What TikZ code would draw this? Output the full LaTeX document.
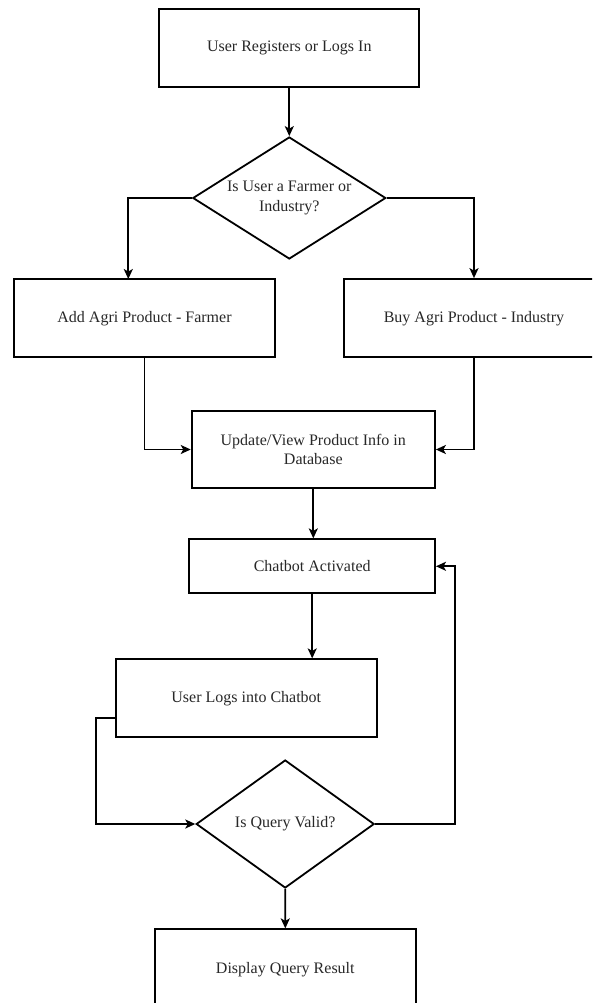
\documentclass[tikz,border=0pt]{standalone}
\usepackage{fontspec}
\setmainfont{Liberation Serif}
\usetikzlibrary{shapes.geometric,arrows.meta}
\definecolor{txt}{RGB}{40,40,40}
\begin{document}
\begin{tikzpicture}[x=1pt,y=-1pt,
  lbl/.style={inner sep=0pt, align=center, text=txt, font=\fontsize{16}{19.5}\selectfont},
  box/.style={lbl, draw=black, line width=1.8pt, rectangle},
  dec/.style={draw=black, line width=1.8pt, diamond, inner sep=0pt},
  conn/.style={line width=1.8pt, -{Stealth[length=10pt,width=9pt,inset=2.5pt]}}]
\useasboundingbox (0,0) rectangle (592,1003);
\clip (0,0) rectangle (592,1003);
\fill[white] (0,0) rectangle (592,1003);

\node[box, minimum width=260pt, minimum height=78pt] (b1) at (289.3,48.3) {User Registers or Logs In};
\node[dec, minimum width=193pt, minimum height=122pt,
      label={[lbl]center:Is User a Farmer or\\Industry?}] (d1) at (289.3,198) {};
\node[box, minimum width=261pt, minimum height=78.3pt] (b2) at (144.5,318.2) {Add Agri Product - Farmer};
\node[box, minimum width=259.4pt, minimum height=78.3pt] (b3) at (474,318.2) {Buy Agri Product - Industry};
\node[box, minimum width=243.3pt, minimum height=77.6pt] (b4) at (313.3,449.5) {Update/View Product Info in\\Database};
\node[box, minimum width=245.7pt, minimum height=54pt] (b5) at (312.2,566.3) {Chatbot Activated};
\node[box, minimum width=260.7pt, minimum height=78pt] (b6) at (246.3,698.3) {User Logs into Chatbot};
\node[dec, minimum width=178pt, minimum height=128pt,
      label={[lbl]center:Is Query Valid?}] (d2) at (285.2,824) {};
\node[box, minimum width=260.7pt, minimum height=81.4pt] (b7) at (285.3,970) {Display Query Result};

\coordinate (b2in) at (128.3,279.05);
\coordinate (l1) at (96,717.7);
\coordinate (r1) at (455,566.3);

\draw[conn] (b1.south) -- (d1.north);
\draw[conn] (d1.west) -| (b2in);
\draw[conn] (d1.east) -| (b3.north);
\draw[conn] (b2.south) |- (b4.west);
\draw[conn] (b3.south) |- (b4.east);
\draw[conn] (b4.south) -- (b4.south |- b5.north);
\draw[conn] (b5.south) -- (b5.south |- b6.north);
\draw[conn] (b6.west |- l1) -- (l1) |- (d2.west);
\draw[conn] (d2.east) -| (r1) -- (b5.east);
\draw[conn] (d2.south) -- (b7.north);
\end{tikzpicture}
\end{document}
